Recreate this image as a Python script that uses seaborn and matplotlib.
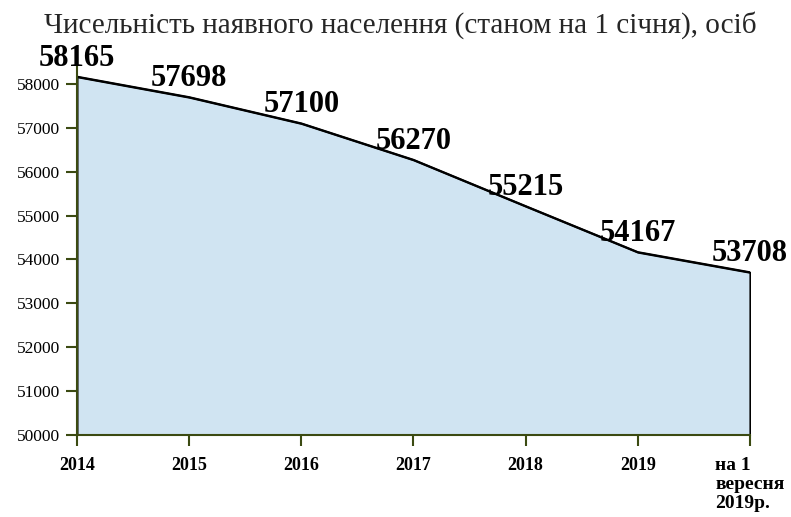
import numpy as np
import pandas as pd
import matplotlib
matplotlib.use("Agg")
import matplotlib.pyplot as plt
import seaborn as sns

# ======= дані =======
periods = ["2014", "2015", "2016", "2017", "2018", "2019", "на 1\nвересня\n2019р."]
population = [58165, 57698, 57100, 56270, 55215, 54167, 53708]
y_ticks = [50000, 51000, 52000, 53000, 54000, 55000, 56000, 57000, 58000]

df = pd.DataFrame({"pos": np.arange(len(periods)), "population": population})

sns.set_style("ticks")
plt.rcParams["font.family"] = ["Liberation Serif", "DejaVu Serif"]

fig = plt.figure(figsize=(7.91, 5.17), dpi=100)
ax = fig.add_axes([0.0973, 0.1586, 0.8508, 0.73])

ax.fill_between(df["pos"], 50000, df["population"], facecolor="#d0e4f2",
                edgecolor="black", linewidth=1.5, zorder=1)
sns.lineplot(data=df, x="pos", y="population", color="black", linewidth=1.5, ax=ax, zorder=2)

# ======= підписи значень =======
for x, y in zip(df["pos"], df["population"]):
    ax.annotate(str(y), (x, y), xytext=(0, 3), textcoords="offset points",
                ha="center", va="bottom", fontsize=22, fontweight="bold", color="black")

ax.set_xlim(0, len(periods) - 1)
ax.set_ylim(50000, 58600)
ax.set_yticks(y_ticks)
ax.set_yticklabels([str(t) for t in y_ticks], fontsize=12.5)
ax.set_xticks(df["pos"])
ax.set_xticklabels(periods, fontsize=13, fontweight="bold", va="top", multialignment="left")
last = ax.get_xticklabels()[-1]
last.set_fontsize(14)
last.set_linespacing(1.15)
ax.set_xlabel("")
ax.set_ylabel("")

olive = "#3b4a12"
for side in ["top", "right"]:
    ax.spines[side].set_visible(False)
for side in ["left", "bottom"]:
    ax.spines[side].set_color(olive)
    ax.spines[side].set_linewidth(1.5)
ax.tick_params(axis="both", colors=olive, length=8, width=1.5, labelcolor="black")
ax.tick_params(axis="y", pad=4)
ax.tick_params(axis="x", pad=8)

fig.text(0.506, 0.952, "Чисельність наявного населення (станом на 1 січня), осіб",
         ha="center", va="center", fontsize=21)

fig.savefig("out.png", dpi=100)
